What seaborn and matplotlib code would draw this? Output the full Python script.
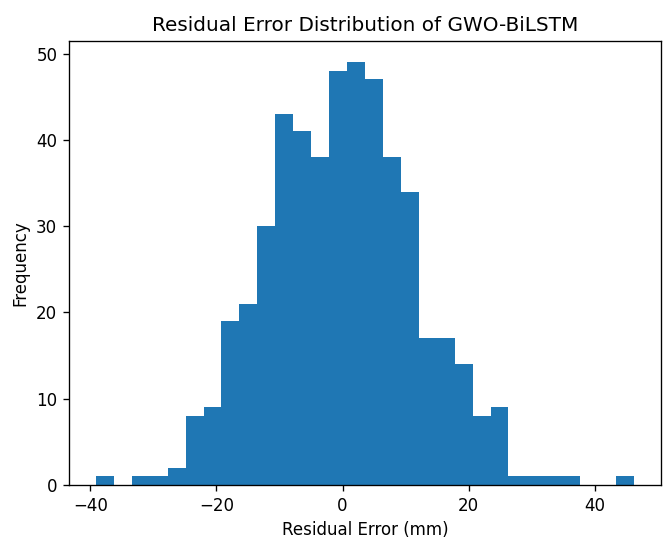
import numpy as np
import pandas as pd
import matplotlib
matplotlib.use("Agg")
import matplotlib.pyplot as plt
import seaborn as sns

# residual range (min/max) and counts per bin
res_min = -39.1
res_max = 46.2
counts = [1, 0, 1, 1, 2, 8, 9, 19, 21, 30,
          43, 41, 38, 48, 49, 47, 38, 34, 17, 17,
          14, 8, 9, 1, 1, 1, 1, 0, 0, 1]

edges = np.linspace(res_min, res_max, len(counts) + 1)
centers = (edges[:-1] + edges[1:]) / 2
df = pd.DataFrame({"residual": centers, "n": counts})

# dpi 120 damit schrift etwas groesser ist wie im original
dpi = 120
fig = plt.figure(figsize=(669 / dpi, 538 / dpi), dpi=dpi)
ax = fig.add_axes([0.1031, 0.0985, 0.8849, 0.8253])

# 30 bins ueber den ganzen bereich
sns.histplot(data=df, x="residual", weights="n", bins=len(counts),
             binrange=(res_min, res_max), ax=ax,
             color="#1f77b4", alpha=1, linewidth=0, edgecolor="none")

ax.set_title("Residual Error Distribution of GWO-BiLSTM")
ax.set_xlabel("Residual Error (mm)")
ax.set_ylabel("Frequency")

plt.savefig("out.png", dpi=dpi)
